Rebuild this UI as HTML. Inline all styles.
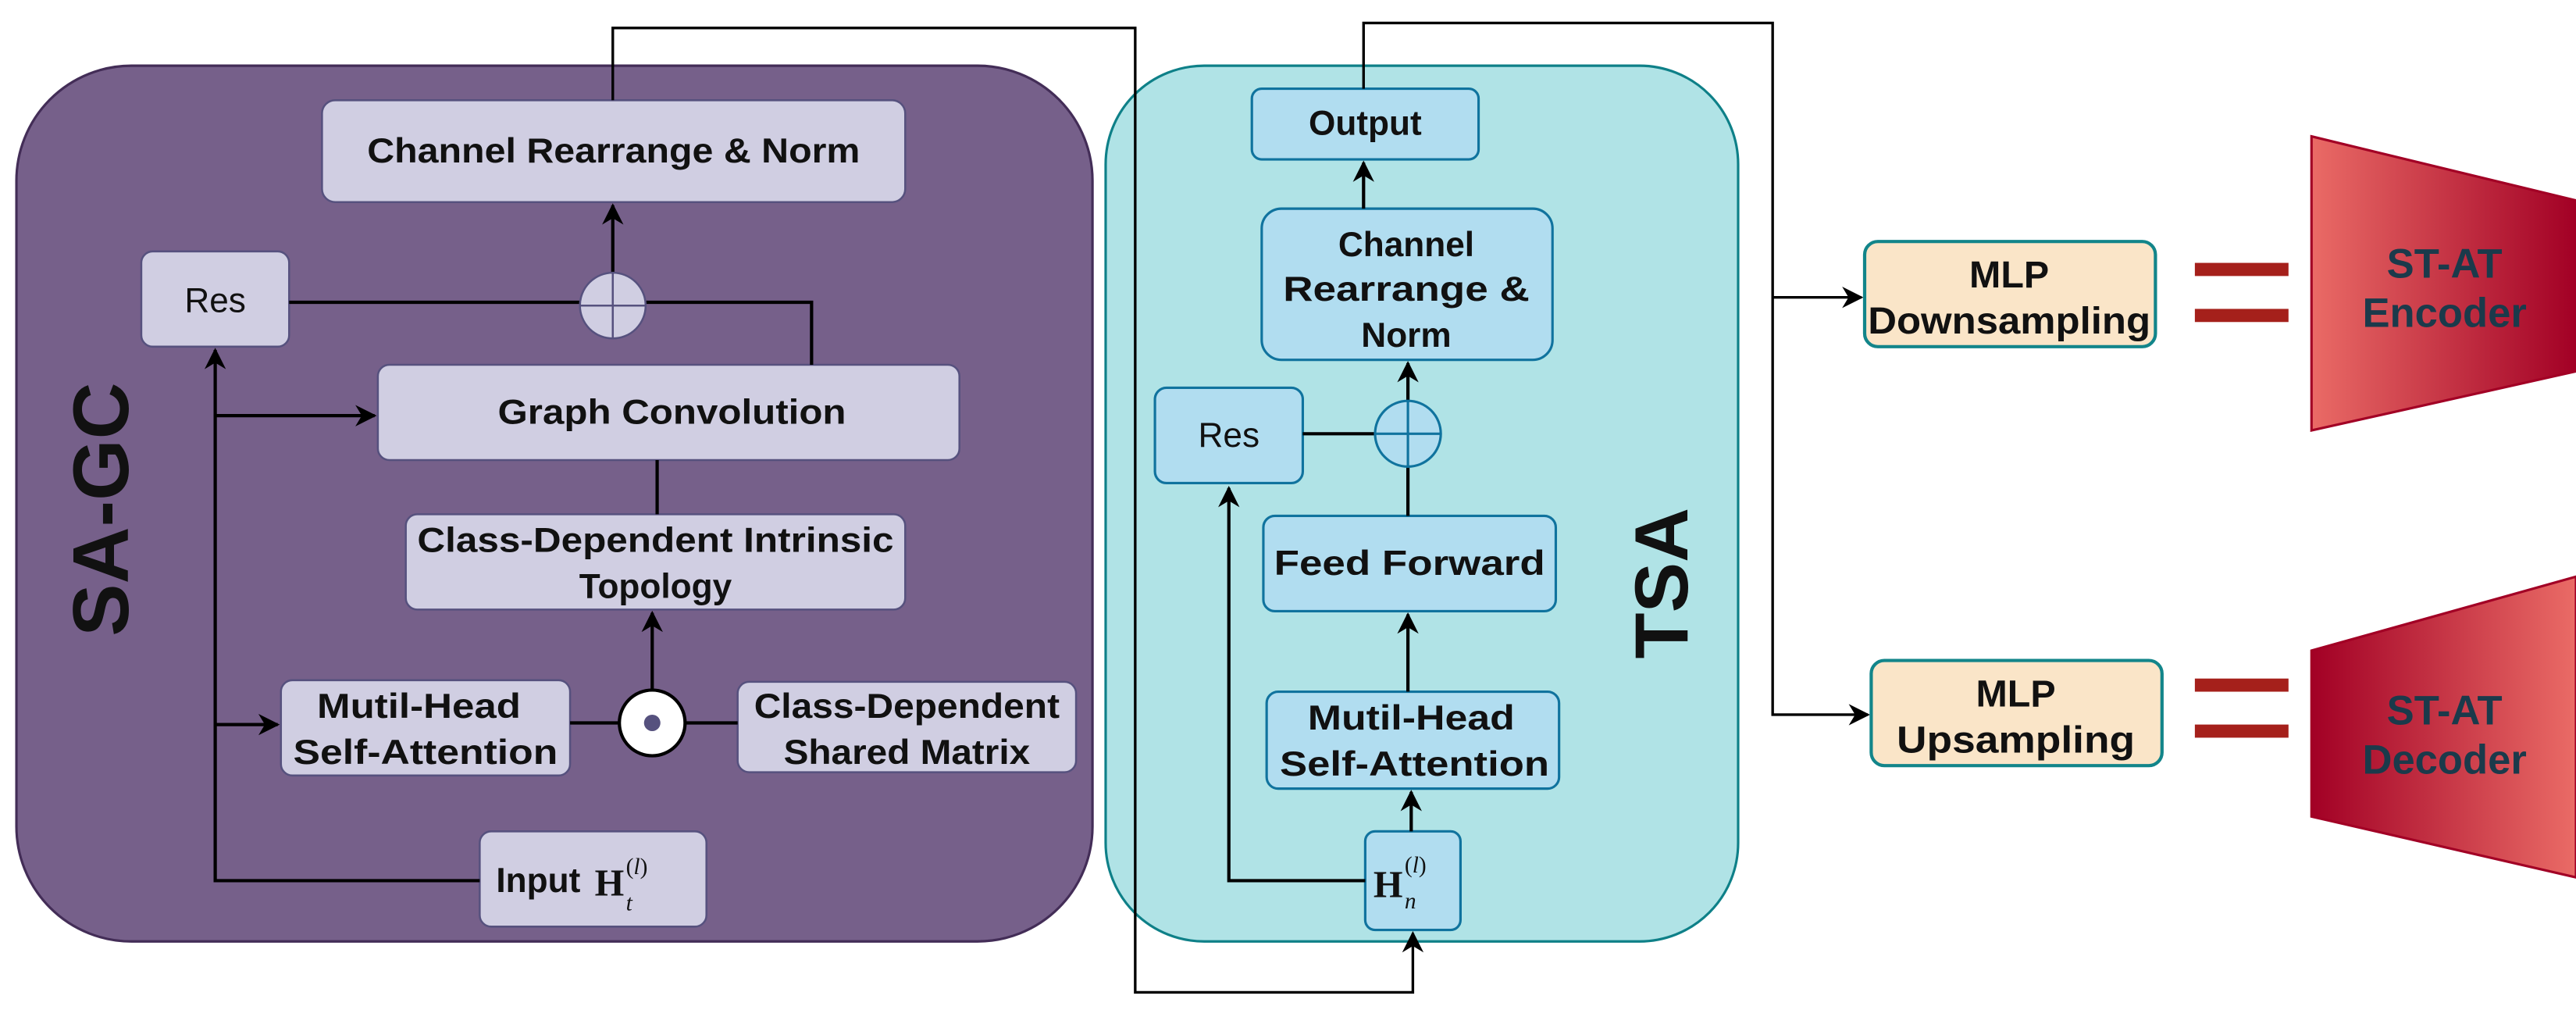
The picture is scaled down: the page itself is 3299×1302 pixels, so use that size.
<!DOCTYPE html>
<html><head><meta charset="utf-8"><style>
html,body{margin:0;padding:0;background:#fff;}
svg{display:block}
text{font-family:"Liberation Sans Narrow","Liberation Sans",sans-serif;}
.b{font-weight:bold;font-size:21px;fill:#111;}
.n{font-size:21px;fill:#111;}
.m{font-family:"Liberation Serif",serif;}
</style></head><body>
<svg width="3299" height="1302" viewBox="0 0 1568 619" preserveAspectRatio="none" xmlns="http://www.w3.org/2000/svg">
<defs>
<marker id="ar2" viewBox="0 0 10 10" refX="9" refY="5" markerWidth="13" markerHeight="13" orient="auto" markerUnits="userSpaceOnUse"><path d="M0,0 L10,5 L0,10 L3,5 Z" fill="#000"/></marker>
<linearGradient id="ge" x1="0" x2="1" y1="0" y2="0"><stop offset="0" stop-color="#ea6b66"/><stop offset="1" stop-color="#a20025"/></linearGradient>
<linearGradient id="gd" x1="0" x2="1" y1="0" y2="0"><stop offset="0" stop-color="#a20025"/><stop offset="1" stop-color="#ea6b66"/></linearGradient>
</defs>

<rect x="10" y="40" width="655" height="533" rx="70" fill="#76608a" stroke="#432d57" stroke-width="1.5"/>
<text transform="translate(78,310) rotate(-90)" text-anchor="middle" style="font-family:'Liberation Sans',sans-serif;font-weight:bold;font-size:48px;fill:#111">SA-GC</text>

<rect x="673" y="40" width="385" height="533" rx="60" fill="#b0e3e6" stroke="#0e8088" stroke-width="1.5"/>
<text transform="translate(1027,355) rotate(-90)" text-anchor="middle" style="font-family:'Liberation Sans',sans-serif;font-weight:bold;font-size:46px;fill:#111">TSA</text>

<g stroke="#56517e" stroke-width="1.2" fill="#d0cee2">
<rect x="196" y="61" width="355" height="62" rx="8"/>
<rect x="86" y="153" width="90" height="58" rx="7"/>
<rect x="230" y="222" width="354" height="58" rx="7"/>
<rect x="247" y="313" width="304" height="58" rx="7"/>
<rect x="171" y="414" width="176" height="58" rx="7"/>
<rect x="449" y="415" width="206" height="55" rx="7"/>
<rect x="292" y="506" width="138" height="58" rx="7"/>
</g>

<g stroke="#000" stroke-width="2" fill="none">
<path d="M292,536 H131 V213" marker-end="url(#ar2)"/>
<path d="M131,253 H228" marker-end="url(#ar2)"/>
<path d="M131,441 H169" marker-end="url(#ar2)"/>
<path d="M176,184 H353"/>
<path d="M393,184 H494 V222"/>
<path d="M400,280 V313"/>
<path d="M397,420 V373" marker-end="url(#ar2)"/>
<path d="M347,440 H377"/>
<path d="M417,440 H449"/>
<path d="M373,166 V125" marker-end="url(#ar2)"/>
</g>
<circle cx="373" cy="186" r="20" fill="#d0cee2" stroke="#56517e" stroke-width="1.2"/>
<path d="M353,186 H393 M373,166 V206" stroke="#56517e" stroke-width="1.2"/>
<circle cx="397" cy="440" r="20" fill="#fff" stroke="#000" stroke-width="2"/>
<circle cx="397" cy="440" r="5" fill="#56517e"/>

<text class="b" x="373.5" y="99" text-anchor="middle" textLength="300" lengthAdjust="spacingAndGlyphs">Channel Rearrange &amp; Norm</text>
<text class="n" x="131" y="190" text-anchor="middle">Res</text>
<text class="b" x="409" y="258" text-anchor="middle" textLength="212" lengthAdjust="spacingAndGlyphs">Graph Convolution</text>
<text class="b" x="399" y="336" text-anchor="middle" textLength="290" lengthAdjust="spacingAndGlyphs">Class-Dependent Intrinsic</text>
<text class="b" x="399" y="364" text-anchor="middle">Topology</text>
<text class="b" x="255" y="437" text-anchor="middle" textLength="124" lengthAdjust="spacingAndGlyphs">Mutil-Head</text>
<text class="b" x="259" y="465" text-anchor="middle" textLength="161" lengthAdjust="spacingAndGlyphs">Self-Attention</text>
<text class="b" x="552" y="437" text-anchor="middle" textLength="186" lengthAdjust="spacingAndGlyphs">Class-Dependent</text>
<text class="b" x="552" y="465" text-anchor="middle" textLength="150" lengthAdjust="spacingAndGlyphs">Shared Matrix</text>
<text class="b" x="302" y="543">Input</text>
<text class="m" x="362" y="545" style="font-weight:bold;font-size:23px;fill:#111">H</text>
<text class="m" x="381" y="554" style="font-style:italic;font-size:14px;fill:#111">t</text>
<text class="m" x="381" y="532" style="font-size:14px;fill:#111">(<tspan style="font-style:italic">l</tspan>)</text>

<g stroke="#10739e" stroke-width="1.5" fill="#b1ddf0">
<rect x="762" y="54" width="138" height="43" rx="6"/>
<rect x="768" y="127" width="177" height="92" rx="12"/>
<rect x="703" y="236" width="90" height="58" rx="7"/>
<rect x="769" y="314" width="178" height="58" rx="7"/>
<rect x="771" y="421" width="178" height="59" rx="7"/>
<rect x="831" y="506" width="58" height="60" rx="6"/>
</g>
<g stroke="#000" stroke-width="2" fill="none">
<path d="M831,536 H748 V297" marker-end="url(#ar2)"/>
<path d="M793,264 H837"/>
<path d="M857,314 V284"/>
<path d="M857,244 V221" marker-end="url(#ar2)"/>
<path d="M857,421 V374" marker-end="url(#ar2)"/>
<path d="M859,506 V482" marker-end="url(#ar2)"/>
<path d="M830,127 V99" marker-end="url(#ar2)"/>
</g>
<circle cx="857" cy="264" r="20" fill="#b1ddf0" stroke="#10739e" stroke-width="1.5"/>
<path d="M837,264 H877 M857,244 V284" stroke="#10739e" stroke-width="1.5"/>

<text class="b" x="831" y="82" text-anchor="middle">Output</text>
<text class="b" x="856" y="156" text-anchor="middle">Channel</text>
<text class="b" x="856" y="183" text-anchor="middle" textLength="150" lengthAdjust="spacingAndGlyphs">Rearrange &amp;</text>
<text class="b" x="856" y="211" text-anchor="middle">Norm</text>
<text class="n" x="748" y="272" text-anchor="middle">Res</text>
<text class="b" x="858" y="350" text-anchor="middle" textLength="165" lengthAdjust="spacingAndGlyphs">Feed Forward</text>
<text class="b" x="859" y="444" text-anchor="middle" textLength="126" lengthAdjust="spacingAndGlyphs">Mutil-Head</text>
<text class="b" x="861" y="472" text-anchor="middle" textLength="164" lengthAdjust="spacingAndGlyphs">Self-Attention</text>
<text class="m" x="836" y="546" style="font-weight:bold;font-size:23px;fill:#111">H</text>
<text class="m" x="855" y="553" style="font-style:italic;font-size:14px;fill:#111">n</text>
<text class="m" x="855" y="531" style="font-size:14px;fill:#111">(<tspan style="font-style:italic">l</tspan>)</text>

<g stroke="#000" stroke-width="1.6" fill="none">
<path d="M373,61 V17 H691 V604 H860 V568" marker-end="url(#ar2)"/>
<path d="M830,54 V14 H1079 V435 H1137" marker-end="url(#ar2)"/>
<path d="M1079,181 H1133" marker-end="url(#ar2)"/>
</g>

<g stroke="#12858a" stroke-width="2" fill="#fae5c8">
<rect x="1135" y="147" width="177" height="64" rx="8"/>
<rect x="1139" y="402" width="177" height="64" rx="8"/>
</g>
<text class="b" x="1223" y="175" text-anchor="middle" style="font-size:23px">MLP</text>
<text class="b" x="1223" y="203" text-anchor="middle" textLength="172" lengthAdjust="spacingAndGlyphs" style="font-size:23px">Downsampling</text>
<text class="b" x="1227" y="430" text-anchor="middle" style="font-size:23px">MLP</text>
<text class="b" x="1227" y="458" text-anchor="middle" textLength="145" lengthAdjust="spacingAndGlyphs" style="font-size:23px">Upsampling</text>

<g fill="#a5201b">
<rect x="1336" y="160" width="57" height="8"/>
<rect x="1336" y="188" width="57" height="8"/>
<rect x="1336" y="413" width="57" height="8"/>
<rect x="1336" y="441" width="57" height="8"/>
</g>

<polygon points="1407,83 1568,122 1568,226 1407,262" fill="url(#ge)" stroke="#a20025" stroke-width="1.5"/>
<polygon points="1407,396 1568,351 1568,534 1407,497" fill="url(#gd)" stroke="#a20025" stroke-width="1.5"/>
<text class="b" x="1488" y="169" text-anchor="middle" style="fill:#1b3a4b;font-size:25px">ST-AT</text>
<text class="b" x="1488" y="199" text-anchor="middle" style="fill:#1b3a4b;font-size:25px">Encoder</text>
<text class="b" x="1488" y="441" text-anchor="middle" style="fill:#1b3a4b;font-size:25px">ST-AT</text>
<text class="b" x="1488" y="471" text-anchor="middle" style="fill:#1b3a4b;font-size:25px">Decoder</text>
</svg>
</body></html>
